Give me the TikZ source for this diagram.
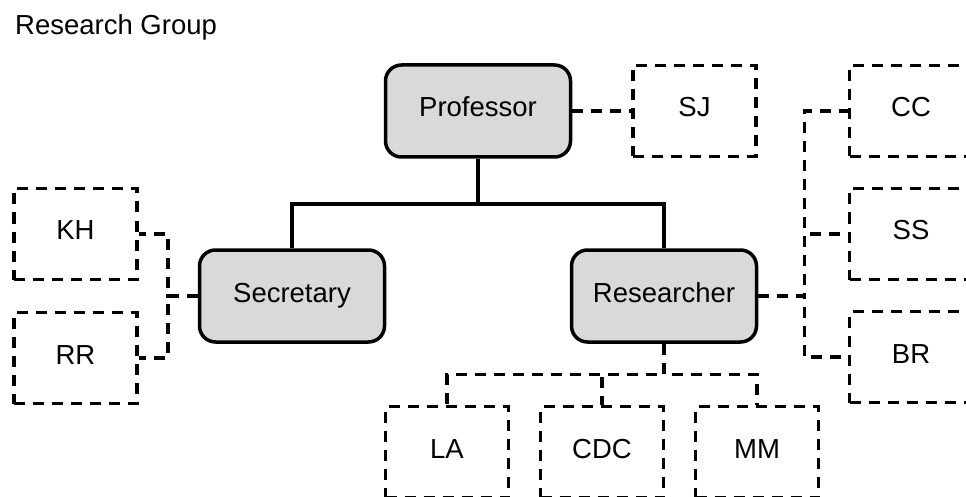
\documentclass[tikz,border=0pt]{standalone}
\usepackage{fontspec}
\setmainfont{Liberation Sans}
\usepackage{tikz}
\definecolor{boxgray}{RGB}{217,217,217}
\tikzset{
	person/.style = {draw, line width = 3.5pt, rounded corners = 16pt, fill = boxgray, minimum width = 185pt, minimum height = 92pt, text height = 22pt, text depth = 10pt, font = \fontsize{27.5}{33}\selectfont},
	member/.style = {draw, line width = 3.5pt, dash pattern = on 11pt off 8pt, minimum width = 123pt, minimum height = 91pt, text height = 22pt, text depth = 10pt, font = \fontsize{27.5}{33}\selectfont},
	link/.style = {line width = 3.5pt, dash pattern = on 11pt off 8pt},
	tie/.style = {line width = 3.5pt}
}

\begin{document}
\begin{tikzpicture}[x = 1pt, y = -1pt]
		\useasboundingbox (0, 0) rectangle (966, 497);
		\node[anchor = base west, inner sep = 0pt, font = \fontsize{27.5}{33}\selectfont] (title) at (15, 35) {Research Group};
		\node[person] (prof) at (478, 111) {Professor};
		\node[person] (sec) at (292, 296) {Secretary};
		\node[person] (res) at (664, 296) {Researcher};
		\node[member] (sj) at (694.5, 111) {SJ};
		\node[member] (kh) at (75.5, 234) {KH};
		\node[member] (rr) at (75.5, 358) {RR};
		\node[member] (cc) at (911, 111) {CC};
		\node[member] (ss) at (911, 234) {SS};
		\node[member] (br) at (911, 357) {BR};
		\node[member] (la) at (447, 452) {LA};
		\node[member] (cdc) at (602, 452) {CDC};
		\node[member] (mm) at (757, 452) {MM};
		\draw[tie] (prof.south) -- ++(0, 45.5) -| (sec.north);
		\draw[tie] (prof.south) -- ++(0, 45.5) -| (res.north);
		\draw[link] (prof.east) -- (sj.west);
		\draw[link] (sec.west) -- ++(-30, 0) |- (kh.east);
		\draw[link] (sec.west) -- ++(-30, 0) |- (rr.east);
		\draw[link] (res.east) -- ++(46, 0) |- (cc.west);
		\draw[link] (res.east) -- ++(46, 0) |- (ss.west);
		\draw[link] (res.east) -- ++(46, 0) |- (br.west);
		\draw[link] (res.south) -- ++(0, 30.5) -| (la.north);
		\draw[link] (res.south) -- ++(0, 30.5) -| (cdc.north);
		\draw[link] (res.south) -- ++(0, 30.5) -| (mm.north);
	\end{tikzpicture}
\end{document}
